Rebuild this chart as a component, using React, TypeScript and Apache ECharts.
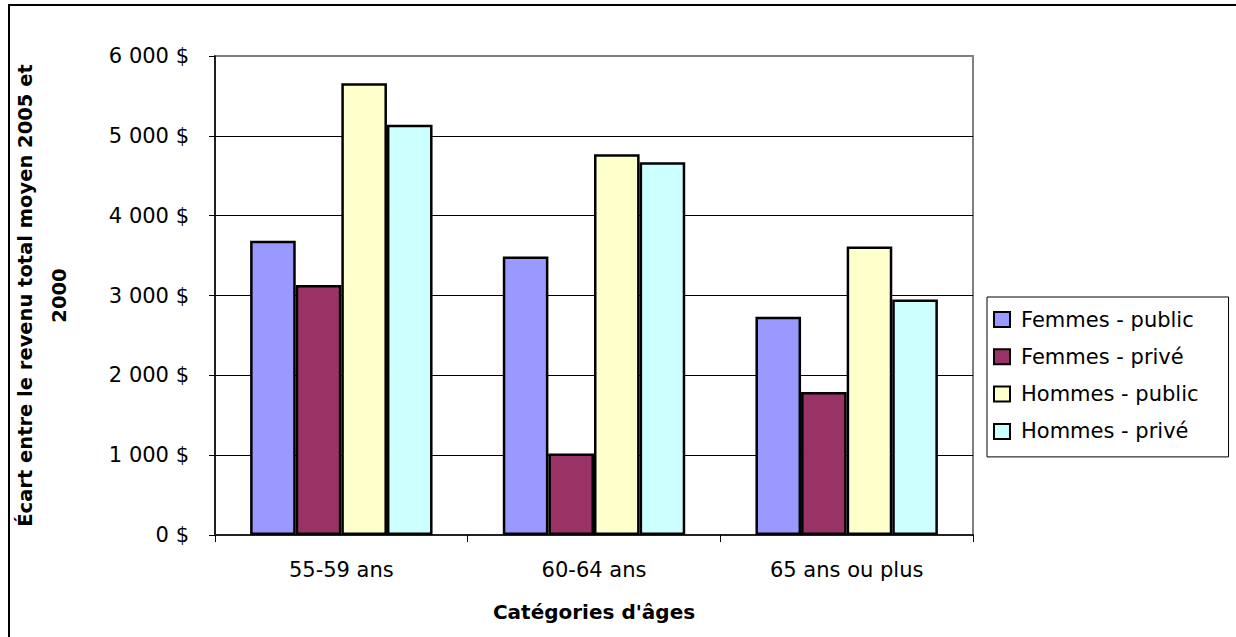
import React, { useEffect, useRef } from "react";
import * as echarts from "echarts";

const categories = ["55-59 ans", "60-64 ans", "65 ans ou plus"];
const seriesNames = ["Femmes - public", "Femmes - privé", "Hommes - public", "Hommes - privé"];
const femmesPublic = [3685, 3490, 2735];
const femmesPrive = [3130, 1020, 1790];
const hommesPublic = [5660, 4770, 3615];
const hommesPrive = [5140, 4670, 2950];
const seriesColors = ["#9999FF", "#993366", "#FFFFCC", "#CCFFFF"];
const yTicks = { min: 0, max: 6000, interval: 1000 };

const FONT = "DejaVu Sans";

function fmt(v: number): string {
  return String(v).replace(/\B(?=(\d{3})+(?!\d))/g, " ") + " $";
}

export default function App() {
  const ref = useRef<HTMLDivElement>(null);
  useEffect(() => {
    if (!ref.current) return;
    const chart = echarts.init(ref.current, undefined, { renderer: "svg" });
    const values = [femmesPublic, femmesPrive, hommesPublic, hommesPrive];
    chart.setOption({
      animation: false,
      backgroundColor: "#ffffff",
      textStyle: { fontFamily: FONT, color: "#000" },
      graphic: [
        {
          type: "rect",
          shape: { x: 9, y: 5, width: 1400, height: 800 },
          style: { fill: "none", stroke: "#000", lineWidth: 2 },
          silent: true,
        },
      ],
      grid: {
        left: 209,
        top: 56,
        width: 764,
        height: 479,
        show: true,
        borderColor: "#808080",
        borderWidth: 2,
        backgroundColor: "#ffffff",
      },
      legend: {
        orient: "vertical",
        left: 987,
        top: 297,
        padding: [12, 30, 15, 6],
        borderColor: "#000",
        borderWidth: 1,
        itemWidth: 16,
        itemHeight: 15,
        itemGap: 16.3,
        icon: "rect",
        textStyle: { fontFamily: FONT, fontSize: 21, color: "#000", lineHeight: 20, padding: [0, 0, 0, 6] },
        data: seriesNames,
      },
      xAxis: {
        type: "category",
        data: categories,
        name: "Catégories d'âges",
        nameLocation: "middle",
        nameGap: 67,
        nameTextStyle: { fontFamily: FONT, fontSize: 20, fontWeight: "bold", color: "#000" },
        axisLine: { lineStyle: { color: "#222", width: 2 } },
        axisTick: { show: true, alignWithLabel: false, length: 7, lineStyle: { color: "#000" } },
        axisLabel: { fontFamily: FONT, fontSize: 21, color: "#000", margin: 24 },
        splitLine: { show: false },
      },
      yAxis: {
        type: "value",
        min: yTicks.min,
        max: yTicks.max,
        interval: yTicks.interval,
        name: "Écart entre le revenu total moyen 2005 et\n2000",
        nameLocation: "middle",
        nameRotate: 90,
        nameGap: 139,
        nameTextStyle: {
          fontFamily: FONT,
          fontSize: 19.5,
          fontWeight: "bold",
          color: "#000",
          lineHeight: 34,
          align: "center",
        },
        axisLine: { show: true, lineStyle: { color: "#000", width: 1.5 } },
        axisTick: { show: true, length: 6, lineStyle: { color: "#000" } },
        axisLabel: { fontFamily: FONT, fontSize: 21, color: "#000", margin: 26, formatter: (v: number) => fmt(v) },
        splitLine: { show: true, showMaxLine: false, lineStyle: { color: "#000", width: 1 } },
      },
      series: seriesNames.map((name, i) => ({
        name,
        type: "bar",
        data: values[i],
        barGap: "0%",
        barCategoryGap: "27.8%",
        itemStyle: { color: seriesColors[i], borderColor: "#000", borderWidth: 2.5 },
      })),
    });
    return () => chart.dispose();
  }, []);
  return <div ref={ref} style={{ position: "fixed", left: 0, top: 0, width: 1236, height: 637 }} />;
}
